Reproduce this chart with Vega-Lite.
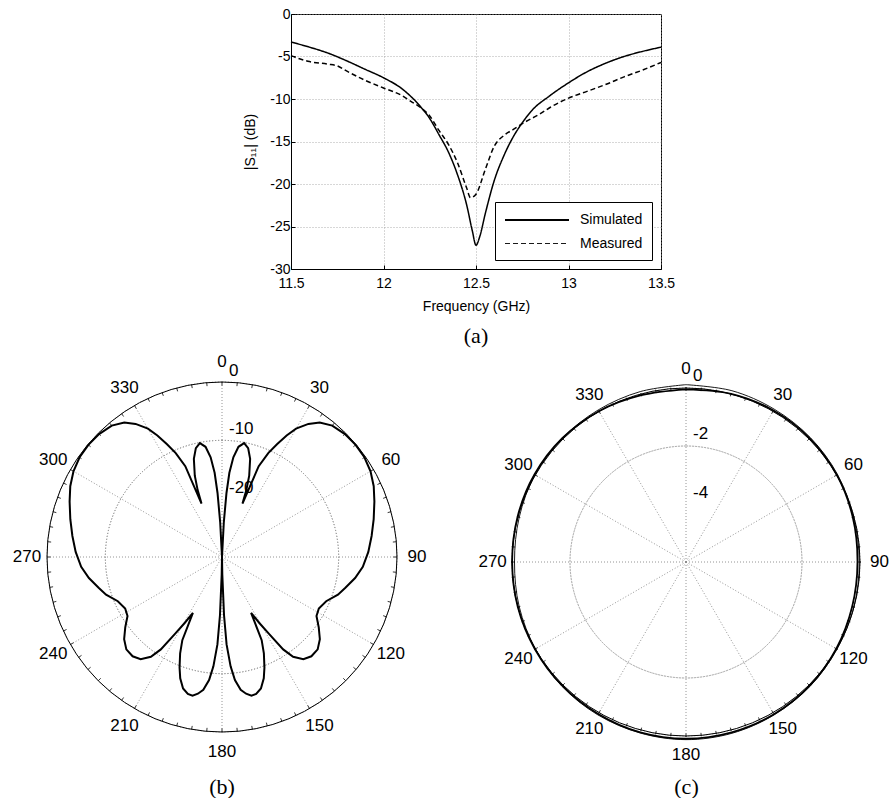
{
  "$schema": "https://vega.github.io/schema/vega-lite/v6.json",
  "padding": {"left": 0, "top": 6, "right": 0, "bottom": 0},
  "background": "white",
  "config": {
    "font": "Liberation Sans",
    "view": {"stroke": "black", "strokeWidth": 1},
    "axis": {
      "domainColor": "black", "tickColor": "black", "gridColor": "#999999", "gridDash": [1, 2], "gridWidth": 0.8,
      "labelColor": "black", "titleColor": "black", "labelFontSize": 14, "titleFontSize": 14, "titleFontWeight": "normal",
      "labelFont": "Liberation Sans", "titleFont": "Liberation Sans", "tickSize": -4, "labelFlush": false, "labelOverlap": false
    },
    "title": {"font": "Liberation Serif", "fontSize": 22, "fontWeight": "normal", "color": "black", "frame": "group", "orient": "bottom"}
  },
  "datasets": {
    "s11": [
      {"f": 11.5, "v": -3.3, "s": "Simulated"}, {"f": 11.6, "v": -3.9, "s": "Simulated"}, {"f": 11.7, "v": -4.6, "s": "Simulated"},
      {"f": 11.8, "v": -5.5, "s": "Simulated"}, {"f": 11.9, "v": -6.5, "s": "Simulated"}, {"f": 12.0, "v": -7.5, "s": "Simulated"},
      {"f": 12.1, "v": -8.8, "s": "Simulated"}, {"f": 12.2, "v": -10.9, "s": "Simulated"}, {"f": 12.25, "v": -12.3, "s": "Simulated"},
      {"f": 12.3, "v": -14.2, "s": "Simulated"}, {"f": 12.35, "v": -16.2, "s": "Simulated"}, {"f": 12.4, "v": -18.9, "s": "Simulated"},
      {"f": 12.45, "v": -22.5, "s": "Simulated"}, {"f": 12.48, "v": -25.5, "s": "Simulated"}, {"f": 12.5, "v": -27.2, "s": "Simulated"},
      {"f": 12.52, "v": -26.2, "s": "Simulated"}, {"f": 12.55, "v": -23.5, "s": "Simulated"}, {"f": 12.6, "v": -19.5, "s": "Simulated"},
      {"f": 12.65, "v": -16.7, "s": "Simulated"}, {"f": 12.7, "v": -14.5, "s": "Simulated"}, {"f": 12.75, "v": -12.8, "s": "Simulated"},
      {"f": 12.8, "v": -11.4, "s": "Simulated"}, {"f": 12.9, "v": -9.6, "s": "Simulated"}, {"f": 13.0, "v": -8.1, "s": "Simulated"},
      {"f": 13.1, "v": -6.8, "s": "Simulated"}, {"f": 13.2, "v": -5.8, "s": "Simulated"}, {"f": 13.3, "v": -5.0, "s": "Simulated"},
      {"f": 13.4, "v": -4.4, "s": "Simulated"}, {"f": 13.5, "v": -3.9, "s": "Simulated"},
      {"f": 11.5, "v": -4.9, "s": "Measured"}, {"f": 11.55, "v": -5.3, "s": "Measured"}, {"f": 11.6, "v": -5.6, "s": "Measured"},
      {"f": 11.7, "v": -5.9, "s": "Measured"}, {"f": 11.75, "v": -6.1, "s": "Measured"}, {"f": 11.8, "v": -6.7, "s": "Measured"},
      {"f": 11.9, "v": -7.8, "s": "Measured"}, {"f": 12.0, "v": -8.7, "s": "Measured"}, {"f": 12.1, "v": -9.6, "s": "Measured"},
      {"f": 12.15, "v": -10.3, "s": "Measured"}, {"f": 12.2, "v": -11.0, "s": "Measured"}, {"f": 12.25, "v": -12.0, "s": "Measured"},
      {"f": 12.3, "v": -13.7, "s": "Measured"}, {"f": 12.35, "v": -15.3, "s": "Measured"}, {"f": 12.4, "v": -17.5, "s": "Measured"},
      {"f": 12.45, "v": -20.5, "s": "Measured"}, {"f": 12.47, "v": -21.6, "s": "Measured"}, {"f": 12.5, "v": -21.2, "s": "Measured"},
      {"f": 12.55, "v": -18.3, "s": "Measured"}, {"f": 12.6, "v": -15.5, "s": "Measured"}, {"f": 12.65, "v": -14.3, "s": "Measured"},
      {"f": 12.7, "v": -13.6, "s": "Measured"}, {"f": 12.75, "v": -12.9, "s": "Measured"}, {"f": 12.8, "v": -12.3, "s": "Measured"},
      {"f": 12.85, "v": -11.7, "s": "Measured"}, {"f": 12.9, "v": -11.0, "s": "Measured"}, {"f": 13.0, "v": -9.9, "s": "Measured"},
      {"f": 13.1, "v": -9.1, "s": "Measured"}, {"f": 13.2, "v": -8.3, "s": "Measured"}, {"f": 13.3, "v": -7.4, "s": "Measured"},
      {"f": 13.4, "v": -6.6, "s": "Measured"}, {"f": 13.5, "v": -5.7, "s": "Measured"}
    ],
    "bpat": [
      {"a": 0, "db": -60}, {"a": 2, "db": -30}, {"a": 3, "db": -24}, {"a": 4, "db": -19}, {"a": 5, "db": -15.5},
      {"a": 6.5, "db": -12.8}, {"a": 8.5, "db": -10.9}, {"a": 11, "db": -10.1}, {"a": 13.5, "db": -10.8}, {"a": 16, "db": -12.5},
      {"a": 18.5, "db": -15.3}, {"a": 20, "db": -17.8}, {"a": 21, "db": -20.2}, {"a": 22, "db": -13.2}, {"a": 24, "db": -10.5},
      {"a": 26, "db": -8.5}, {"a": 28, "db": -6.4}, {"a": 30, "db": -4.6}, {"a": 33, "db": -2.8}, {"a": 36, "db": -1.5},
      {"a": 40, "db": -0.6}, {"a": 45, "db": -0.2}, {"a": 50, "db": -0.1}, {"a": 55, "db": -0.2}, {"a": 60, "db": -0.6},
      {"a": 65, "db": -1.3}, {"a": 70, "db": -2.2}, {"a": 76, "db": -3.2}, {"a": 82, "db": -4.1}, {"a": 88, "db": -4.9},
      {"a": 94, "db": -5.8}, {"a": 99, "db": -6.9}, {"a": 104, "db": -8.2}, {"a": 108, "db": -9.1}, {"a": 113, "db": -10.6},
      {"a": 118, "db": -11.2}, {"a": 122, "db": -10.9}, {"a": 126, "db": -9.5}, {"a": 130, "db": -8.1}, {"a": 134, "db": -7.2},
      {"a": 138, "db": -7.1}, {"a": 141.5, "db": -7.6}, {"a": 144.5, "db": -9.0}, {"a": 146.5, "db": -11.0}, {"a": 148.5, "db": -14.5},
      {"a": 150.5, "db": -17}, {"a": 152.5, "db": -19.2}, {"a": 154.5, "db": -14.2}, {"a": 156.5, "db": -12.0}, {"a": 159, "db": -9.7},
      {"a": 161, "db": -8.0}, {"a": 163.5, "db": -6.5}, {"a": 166, "db": -5.8}, {"a": 168, "db": -5.7}, {"a": 170, "db": -6.2},
      {"a": 172, "db": -7.0}, {"a": 174, "db": -8.8}, {"a": 175.5, "db": -11.2}, {"a": 177, "db": -15}, {"a": 178, "db": -20},
      {"a": 179, "db": -27}, {"a": 180, "db": -60},
      {"a": 181, "db": -27}, {"a": 182, "db": -20}, {"a": 183, "db": -15}, {"a": 184.5, "db": -11.2}, {"a": 186, "db": -8.8},
      {"a": 188, "db": -7.0}, {"a": 190, "db": -6.2}, {"a": 192, "db": -5.7}, {"a": 194, "db": -5.8}, {"a": 196.5, "db": -6.5},
      {"a": 199, "db": -8.0}, {"a": 201, "db": -9.7}, {"a": 203.5, "db": -12.0}, {"a": 205.5, "db": -14.2}, {"a": 207.5, "db": -19.2},
      {"a": 209.5, "db": -17}, {"a": 211.5, "db": -14.5}, {"a": 213.5, "db": -11.0}, {"a": 215.5, "db": -9.0}, {"a": 218.5, "db": -7.6},
      {"a": 222, "db": -7.1}, {"a": 226, "db": -7.2}, {"a": 230, "db": -8.1}, {"a": 234, "db": -9.5}, {"a": 238, "db": -10.9},
      {"a": 242, "db": -11.2}, {"a": 247, "db": -10.6}, {"a": 252, "db": -9.1}, {"a": 256, "db": -8.2}, {"a": 261, "db": -6.9},
      {"a": 266, "db": -5.8}, {"a": 272, "db": -4.9}, {"a": 278, "db": -4.1}, {"a": 284, "db": -3.2}, {"a": 290, "db": -2.2},
      {"a": 295, "db": -1.3}, {"a": 300, "db": -0.6}, {"a": 305, "db": -0.2}, {"a": 310, "db": -0.1}, {"a": 315, "db": -0.2},
      {"a": 320, "db": -0.6}, {"a": 324, "db": -1.5}, {"a": 327, "db": -2.8}, {"a": 330, "db": -4.6}, {"a": 332, "db": -6.4},
      {"a": 334, "db": -8.5}, {"a": 336, "db": -10.5}, {"a": 338, "db": -13.2}, {"a": 339, "db": -20.2}, {"a": 340, "db": -17.8},
      {"a": 341.5, "db": -15.3}, {"a": 344, "db": -12.5}, {"a": 346.5, "db": -10.8}, {"a": 349, "db": -10.1}, {"a": 351.5, "db": -10.9},
      {"a": 353.5, "db": -12.8}, {"a": 355, "db": -15.5}, {"a": 356, "db": -19}, {"a": 357, "db": -24}, {"a": 358, "db": -30},
      {"a": 360, "db": -60}
    ],
    "cpat": [
      {"a": 0, "db": -0.08, "s": "Simulated"}, {"a": 15, "db": -0.03, "s": "Simulated"}, {"a": 30, "db": 0.0, "s": "Simulated"},
      {"a": 45, "db": 0.0, "s": "Simulated"}, {"a": 60, "db": -0.03, "s": "Simulated"}, {"a": 75, "db": -0.08, "s": "Simulated"},
      {"a": 90, "db": -0.12, "s": "Simulated"}, {"a": 105, "db": -0.1, "s": "Simulated"}, {"a": 120, "db": -0.05, "s": "Simulated"},
      {"a": 135, "db": 0.0, "s": "Simulated"}, {"a": 150, "db": 0.03, "s": "Simulated"}, {"a": 165, "db": 0.05, "s": "Simulated"},
      {"a": 180, "db": 0.06, "s": "Simulated"}, {"a": 195, "db": 0.05, "s": "Simulated"}, {"a": 210, "db": 0.02, "s": "Simulated"},
      {"a": 225, "db": 0.0, "s": "Simulated"}, {"a": 240, "db": -0.02, "s": "Simulated"}, {"a": 255, "db": -0.03, "s": "Simulated"},
      {"a": 270, "db": -0.04, "s": "Simulated"}, {"a": 285, "db": -0.02, "s": "Simulated"}, {"a": 300, "db": 0.0, "s": "Simulated"},
      {"a": 315, "db": 0.0, "s": "Simulated"}, {"a": 330, "db": -0.03, "s": "Simulated"}, {"a": 345, "db": -0.08, "s": "Simulated"},
      {"a": 360, "db": -0.08, "s": "Simulated"},
      {"a": 0, "db": 0.08, "s": "Measured"}, {"a": 15, "db": 0.08, "s": "Measured"}, {"a": 30, "db": 0.05, "s": "Measured"},
      {"a": 45, "db": 0.03, "s": "Measured"}, {"a": 60, "db": 0.0, "s": "Measured"}, {"a": 75, "db": -0.05, "s": "Measured"},
      {"a": 90, "db": -0.06, "s": "Measured"}, {"a": 105, "db": -0.04, "s": "Measured"}, {"a": 120, "db": -0.02, "s": "Measured"},
      {"a": 135, "db": 0.02, "s": "Measured"}, {"a": 150, "db": 0.05, "s": "Measured"}, {"a": 165, "db": 0.08, "s": "Measured"},
      {"a": 180, "db": 0.09, "s": "Measured"}, {"a": 195, "db": 0.07, "s": "Measured"}, {"a": 210, "db": 0.05, "s": "Measured"},
      {"a": 225, "db": 0.02, "s": "Measured"}, {"a": 240, "db": -0.04, "s": "Measured"}, {"a": 255, "db": -0.08, "s": "Measured"},
      {"a": 270, "db": -0.12, "s": "Measured"}, {"a": 285, "db": -0.08, "s": "Measured"}, {"a": 300, "db": -0.02, "s": "Measured"},
      {"a": 315, "db": 0.0, "s": "Measured"}, {"a": 330, "db": 0.02, "s": "Measured"}, {"a": 345, "db": 0.05, "s": "Measured"},
      {"a": 360, "db": 0.08, "s": "Measured"}
    ],
    "spokes": [
      {"a": 0}, {"a": 30}, {"a": 60}, {"a": 90}, {"a": 120}, {"a": 150},
      {"a": 180}, {"a": 210}, {"a": 240}, {"a": 270}, {"a": 300}, {"a": 330}
    ],
    "angles": [
      {"a": 0, "t": "0"}, {"a": 30, "t": "30"}, {"a": 60, "t": "60"}, {"a": 90, "t": "90"}, {"a": 120, "t": "120"}, {"a": 150, "t": "150"},
      {"a": 180, "t": "180"}, {"a": 210, "t": "210"}, {"a": 240, "t": "240"}, {"a": 270, "t": "270"}, {"a": 300, "t": "300"}, {"a": 330, "t": "330"}
    ],
    "ticks": [
      {"a": 0}, {"a": 5}, {"a": 10}, {"a": 15}, {"a": 20}, {"a": 25}, {"a": 30}, {"a": 35}, {"a": 40}, {"a": 45}, {"a": 50}, {"a": 55},
      {"a": 60}, {"a": 65}, {"a": 70}, {"a": 75}, {"a": 80}, {"a": 85}, {"a": 90}, {"a": 95}, {"a": 100}, {"a": 105}, {"a": 110}, {"a": 115},
      {"a": 120}, {"a": 125}, {"a": 130}, {"a": 135}, {"a": 140}, {"a": 145}, {"a": 150}, {"a": 155}, {"a": 160}, {"a": 165}, {"a": 170}, {"a": 175},
      {"a": 180}, {"a": 185}, {"a": 190}, {"a": 195}, {"a": 200}, {"a": 205}, {"a": 210}, {"a": 215}, {"a": 220}, {"a": 225}, {"a": 230}, {"a": 235},
      {"a": 240}, {"a": 245}, {"a": 250}, {"a": 255}, {"a": 260}, {"a": 265}, {"a": 270}, {"a": 275}, {"a": 280}, {"a": 285}, {"a": 290}, {"a": 295},
      {"a": 300}, {"a": 305}, {"a": 310}, {"a": 315}, {"a": 320}, {"a": 325}, {"a": 330}, {"a": 335}, {"a": 340}, {"a": 345}, {"a": 350}, {"a": 355}
    ]
  },
  "spacing": 0,
  "vconcat": [
    {
      "spacing": 0,
      "hconcat": [
        {"width": 243, "height": 10, "view": {"stroke": null}, "data": {"values": []}, "mark": "point"},
        {
          "width": 370, "height": 255,
          "data": {"name": "s11"},
          "title": {"text": "(a)", "offset": 13},
          "mark": {"type": "line", "color": "black", "strokeWidth": 1.5, "interpolate": "monotone"},
          "encoding": {
            "x": {"field": "f", "type": "quantitative", "scale": {"domain": [11.5, 13.5], "nice": false, "zero": false},
                  "axis": {"title": "Frequency (GHz)", "values": [11.5, 12, 12.5, 13, 13.5], "labelExpr": "'' + datum.value", "labelPadding": 11, "titlePadding": 9}},
            "y": {"field": "v", "type": "quantitative", "scale": {"domain": [-30, 0], "nice": false, "zero": false},
                  "axis": {"title": "|S₁₁| (dB)", "values": [-30, -25, -20, -15, -10, -5, 0], "labelExpr": "'' + datum.value", "labelPadding": 5, "titlePadding": 12}},
            "strokeDash": {"field": "s", "type": "nominal",
              "scale": {"domain": ["Simulated", "Measured"], "range": [[1, 0], [5, 3]]},
              "legend": {"title": null, "orient": "none", "legendX": 495, "legendY": 188, "symbolType": "M-1,0H7", "symbolSize": 256,
                         "symbolStrokeWidth": 1.5, "symbolStrokeColor": "black", "labelFontSize": 14, "labelFont": "Liberation Sans", "labelColor": "black",
                         "strokeColor": "black", "fillColor": "white", "padding": 9, "rowPadding": 8, "labelOffset": 58}}
          }
        }
      ]
    },
    {
      "spacing": 0,
      "hconcat": [
        {
          "width": 444, "height": 421,
          "view": {"stroke": null},
          "title": {"text": "(b)", "offset": 8},
          "layer": [
            {
              "data": {"values": [{"db": -10}, {"db": -20}]},
              "transform": [{"calculate": "(datum.db + 30) / 30", "as": "u"}],
              "mark": {"type": "arc", "filled": false, "stroke": "#888888", "strokeWidth": 0.9, "strokeDash": [1, 2], "theta": 0, "theta2": 6.2832},
              "encoding": {
                "x": {"datum": 0, "type": "quantitative", "scale": {"domain": [-1.26857, 1.26857], "nice": false, "zero": false}, "axis": null},
                "y": {"datum": 0, "type": "quantitative", "scale": {"domain": [-1.21143, 1.19429], "nice": false, "zero": false}, "axis": null},
                "radius": {"field": "u", "type": "quantitative", "scale": {"type": "linear", "domain": [0, 1], "range": [0, 175]}}
              }
            },
            {
              "data": {"name": "spokes"},
              "transform": [{"calculate": "sin(datum.a * PI / 180)", "as": "sx"}, {"calculate": "cos(datum.a * PI / 180)", "as": "sy"}, {"calculate": "0", "as": "o"}],
              "mark": {"type": "rule", "color": "#888888", "strokeWidth": 0.9, "strokeDash": [1, 2]},
              "encoding": {
                "x": {"field": "sx", "type": "quantitative"}, "y": {"field": "sy", "type": "quantitative"},
                "x2": {"field": "o"}, "y2": {"field": "o"}
              }
            },
            {
              "data": {"values": [{"db": 0}]},
              "transform": [{"calculate": "(datum.db + 30) / 30", "as": "u"}],
              "mark": {"type": "arc", "filled": false, "stroke": "black", "strokeWidth": 1, "theta": 0, "theta2": 6.2832},
              "encoding": {
                "x": {"datum": 0, "type": "quantitative"}, "y": {"datum": 0, "type": "quantitative"},
                "radius": {"field": "u", "type": "quantitative", "scale": {"type": "linear", "domain": [0, 1], "range": [0, 175]}}
              }
            },
            {
              "data": {"name": "ticks"},
              "transform": [
                {"calculate": "sin(datum.a * PI / 180)", "as": "sx"}, {"calculate": "cos(datum.a * PI / 180)", "as": "sy"},
                {"calculate": "0.98 * datum.sx", "as": "ix"}, {"calculate": "0.98 * datum.sy", "as": "iy"}
              ],
              "mark": {"type": "rule", "color": "black", "strokeWidth": 0.8},
              "encoding": {
                "x": {"field": "sx", "type": "quantitative"}, "y": {"field": "sy", "type": "quantitative"},
                "x2": {"field": "ix"}, "y2": {"field": "iy"}
              }
            },
            {
              "data": {"name": "bpat"},
              "transform": [
                {"calculate": "max(0, (datum.db + 30) / 30)", "as": "u"},
                {"calculate": "datum.u * sin(datum.a * PI / 180)", "as": "px"},
                {"calculate": "datum.u * cos(datum.a * PI / 180)", "as": "py"}
              ],
              "mark": {"type": "line", "color": "black", "strokeWidth": 2},
              "encoding": {
                "x": {"field": "px", "type": "quantitative"}, "y": {"field": "py", "type": "quantitative"},
                "order": {"field": "a", "type": "quantitative"}
              }
            },
            {
              "data": {"name": "angles"},
              "transform": [
                {"calculate": "1.114 * sin(datum.a * PI / 180)", "as": "lx"},
                {"calculate": "1.114 * cos(datum.a * PI / 180)", "as": "ly"}
              ],
              "mark": {"type": "text", "fontSize": 17, "color": "black", "align": "center", "baseline": "middle"},
              "encoding": {
                "x": {"field": "lx", "type": "quantitative"}, "y": {"field": "ly", "type": "quantitative"},
                "text": {"field": "t", "type": "nominal"}
              }
            },
            {
              "data": {"values": [{"db": 0, "t": "0"}, {"db": -10, "t": "-10"}, {"db": -20, "t": "-20"}]},
              "transform": [{"calculate": "(datum.db + 30) / 30", "as": "u"}],
              "mark": {"type": "text", "fontSize": 17, "color": "black", "align": "left", "baseline": "middle", "dx": 7, "dy": -11},
              "encoding": {
                "x": {"datum": 0, "type": "quantitative"}, "y": {"field": "u", "type": "quantitative"},
                "text": {"field": "t", "type": "nominal"}
              }
            }
          ]
        },
        {
          "width": 445, "height": 421,
          "view": {"stroke": null},
          "title": {"text": "(c)", "offset": 8, "dx": 20},
          "layer": [
            {
              "data": {"values": [{"db": -2}, {"db": -4}]},
              "transform": [{"calculate": "(datum.db + 6) / 6", "as": "u"}],
              "mark": {"type": "arc", "filled": false, "stroke": "#888888", "strokeWidth": 0.9, "strokeDash": [1, 2], "theta": 0, "theta2": 6.2832},
              "encoding": {
                "x": {"datum": 0, "type": "quantitative", "scale": {"domain": [-1.38286, 1.16], "nice": false, "zero": false}, "axis": null},
                "y": {"datum": 0, "type": "quantitative", "scale": {"domain": [-1.18286, 1.22286], "nice": false, "zero": false}, "axis": null},
                "radius": {"field": "u", "type": "quantitative", "scale": {"type": "linear", "domain": [0, 1], "range": [0, 174]}}
              }
            },
            {
              "data": {"name": "spokes"},
              "transform": [{"calculate": "sin(datum.a * PI / 180)", "as": "sx"}, {"calculate": "cos(datum.a * PI / 180)", "as": "sy"}, {"calculate": "0", "as": "o"}],
              "mark": {"type": "rule", "color": "#888888", "strokeWidth": 0.9, "strokeDash": [1, 2]},
              "encoding": {
                "x": {"field": "sx", "type": "quantitative"}, "y": {"field": "sy", "type": "quantitative"},
                "x2": {"field": "o"}, "y2": {"field": "o"}
              }
            },
            {
              "data": {"values": [{"db": 0}]},
              "transform": [{"calculate": "(datum.db + 6) / 6", "as": "u"}],
              "mark": {"type": "arc", "filled": false, "stroke": "black", "strokeWidth": 1, "theta": 0, "theta2": 6.2832},
              "encoding": {
                "x": {"datum": 0, "type": "quantitative"}, "y": {"datum": 0, "type": "quantitative"},
                "radius": {"field": "u", "type": "quantitative", "scale": {"type": "linear", "domain": [0, 1], "range": [0, 174]}}
              }
            },
            {
              "data": {"name": "ticks"},
              "transform": [
                {"calculate": "sin(datum.a * PI / 180)", "as": "sx"}, {"calculate": "cos(datum.a * PI / 180)", "as": "sy"},
                {"calculate": "0.98 * datum.sx", "as": "ix"}, {"calculate": "0.98 * datum.sy", "as": "iy"}
              ],
              "mark": {"type": "rule", "color": "black", "strokeWidth": 0.8},
              "encoding": {
                "x": {"field": "sx", "type": "quantitative"}, "y": {"field": "sy", "type": "quantitative"},
                "x2": {"field": "ix"}, "y2": {"field": "iy"}
              }
            },
            {
              "data": {"name": "cpat"},
              "transform": [
                {"calculate": "max(0, (datum.db + 6) / 6)", "as": "u"},
                {"calculate": "datum.u * sin(datum.a * PI / 180)", "as": "px"},
                {"calculate": "datum.u * cos(datum.a * PI / 180)", "as": "py"}
              ],
              "mark": {"type": "line", "color": "black", "interpolate": "cardinal"},
              "encoding": {
                "x": {"field": "px", "type": "quantitative"}, "y": {"field": "py", "type": "quantitative"},
                "order": {"field": "a", "type": "quantitative"},
                "strokeWidth": {"field": "s", "type": "nominal", "scale": {"domain": ["Simulated", "Measured"], "range": [1.8, 0.9]}, "legend": null}
              }
            },
            {
              "data": {"name": "angles"},
              "transform": [
                {"calculate": "1.105 * sin(datum.a * PI / 180)", "as": "lx"},
                {"calculate": "1.105 * cos(datum.a * PI / 180)", "as": "ly"}
              ],
              "mark": {"type": "text", "fontSize": 17, "color": "black", "align": "center", "baseline": "middle"},
              "encoding": {
                "x": {"field": "lx", "type": "quantitative"}, "y": {"field": "ly", "type": "quantitative"},
                "text": {"field": "t", "type": "nominal"}
              }
            },
            {
              "data": {"values": [{"db": 0, "t": "0"}, {"db": -2, "t": "-2"}, {"db": -4, "t": "-4"}]},
              "transform": [{"calculate": "(datum.db + 6) / 6", "as": "u"}],
              "mark": {"type": "text", "fontSize": 17, "color": "black", "align": "left", "baseline": "middle", "dx": 7, "dy": -11},
              "encoding": {
                "x": {"datum": 0, "type": "quantitative"}, "y": {"field": "u", "type": "quantitative"},
                "text": {"field": "t", "type": "nominal"}
              }
            }
          ]
        }
      ]
    }
  ]
}
